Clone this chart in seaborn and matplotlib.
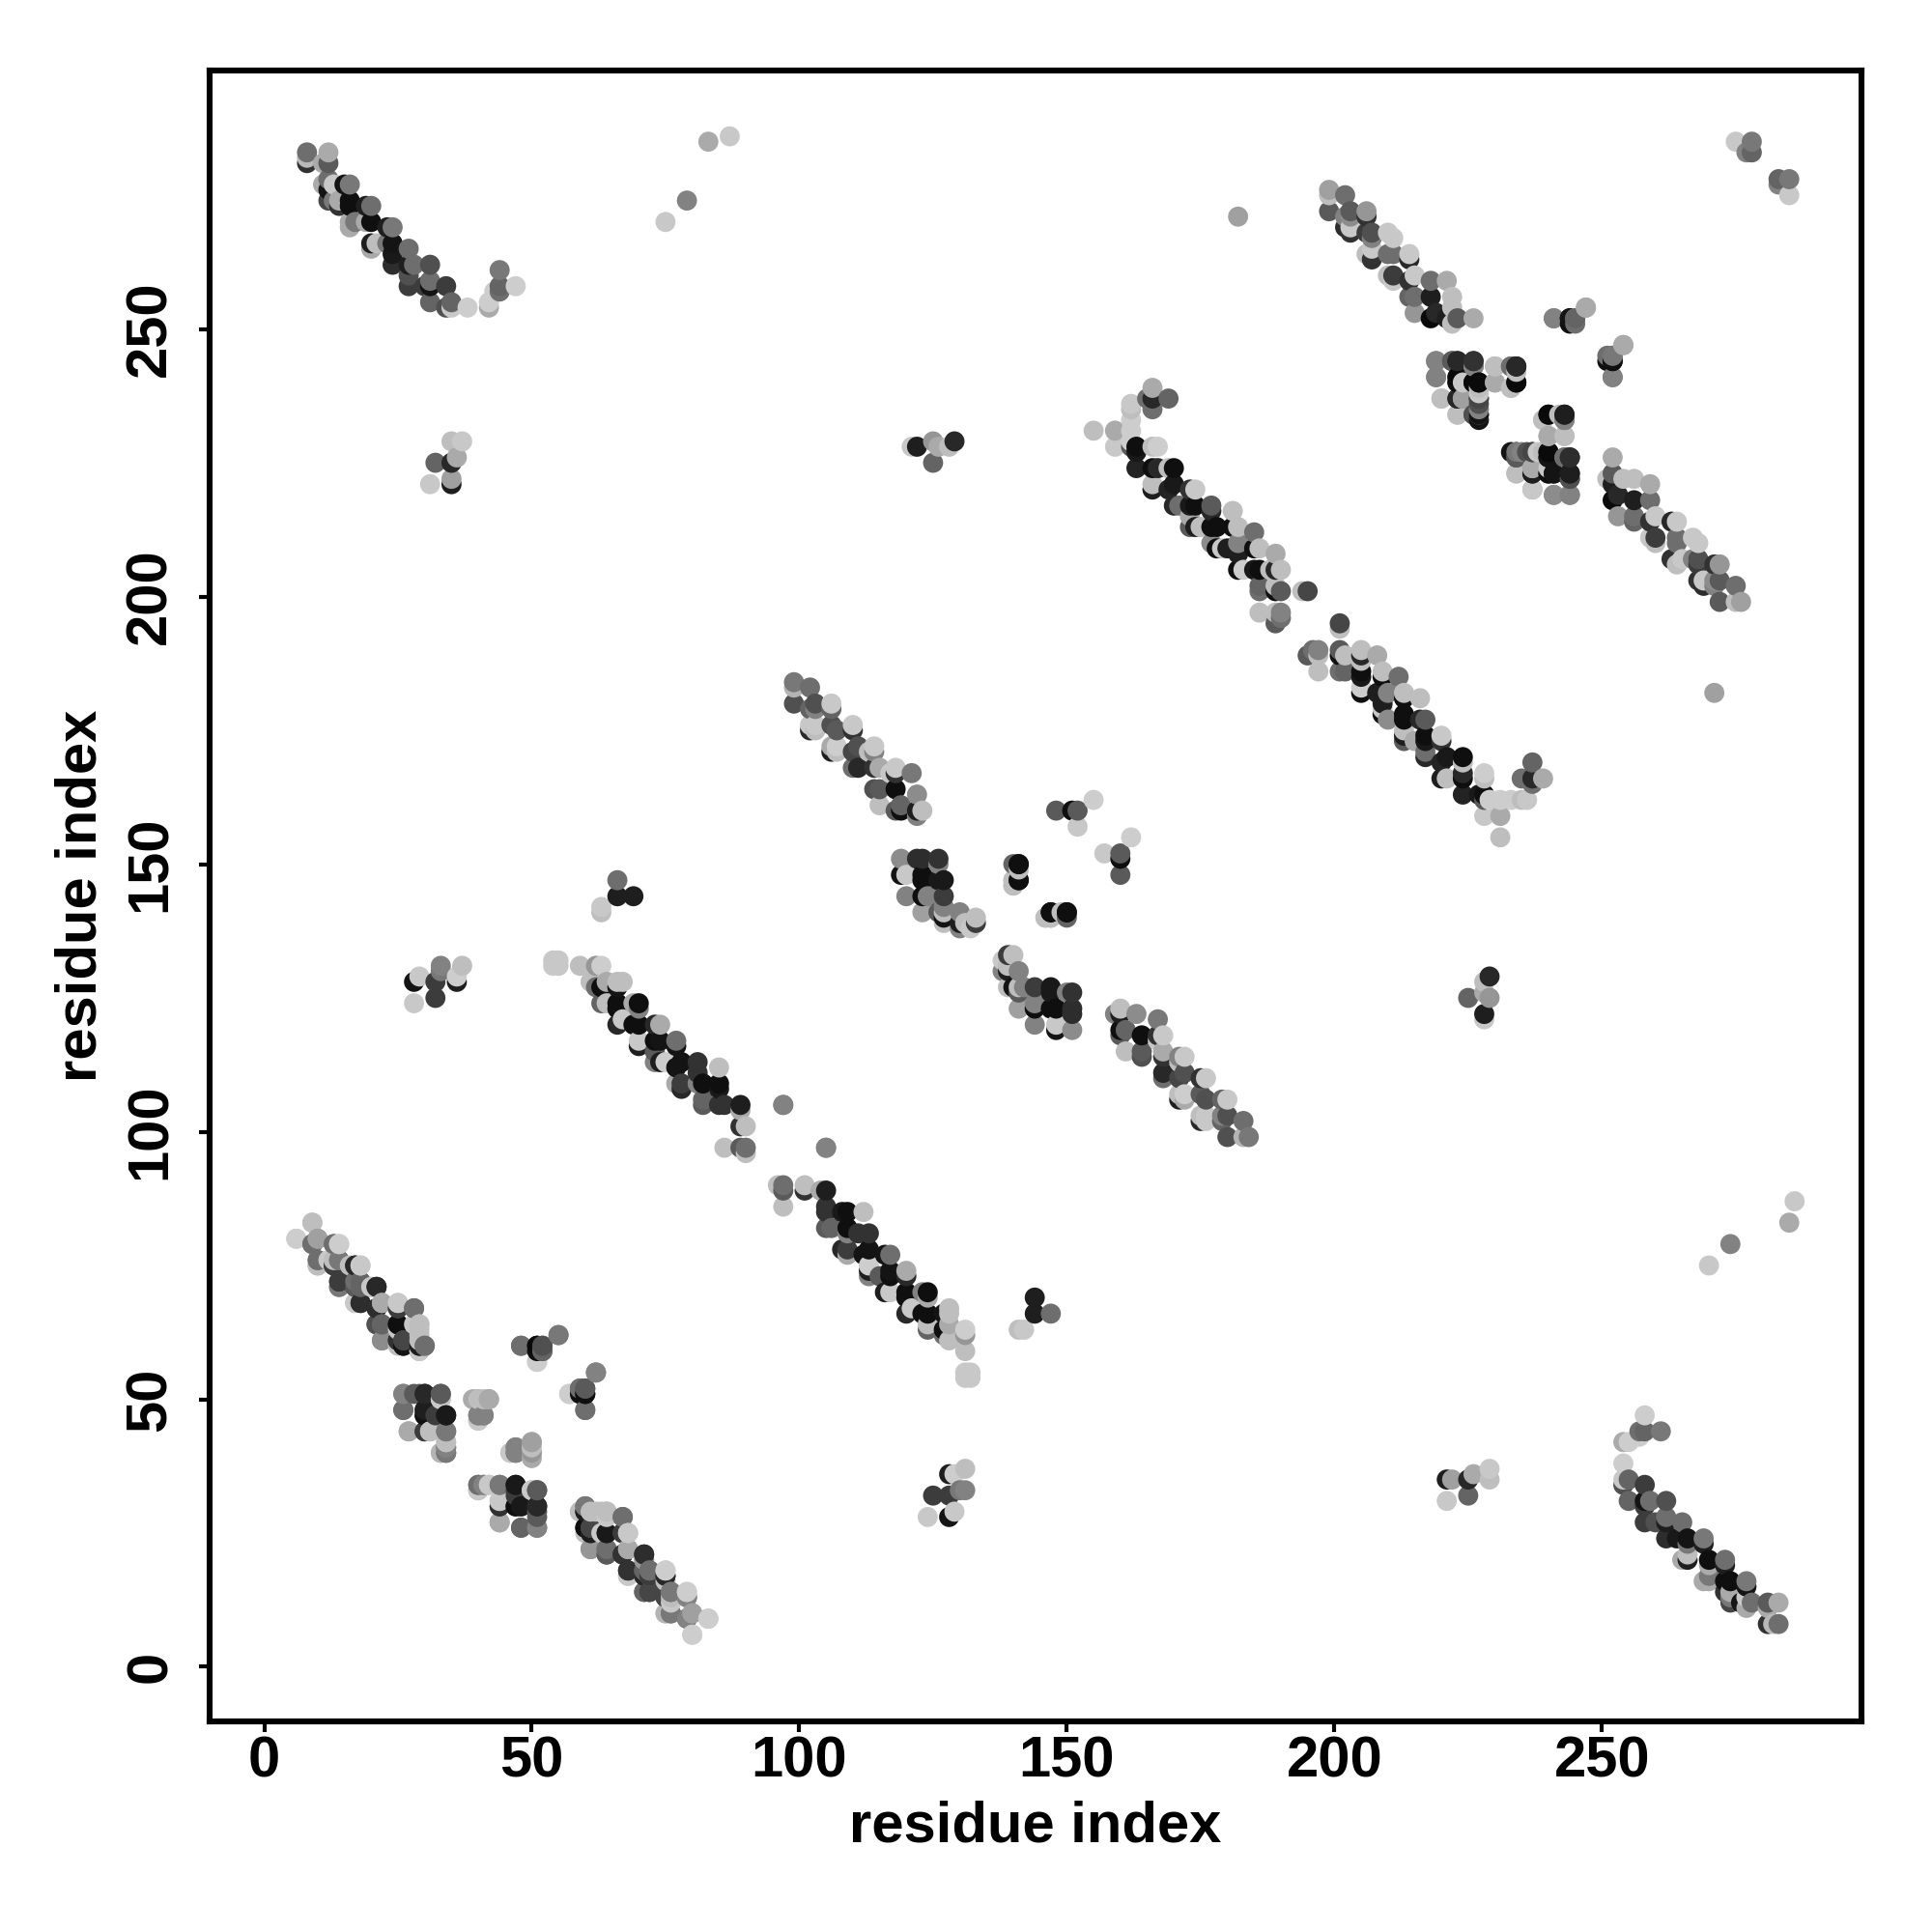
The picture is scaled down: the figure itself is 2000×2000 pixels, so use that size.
import pandas as pd
import matplotlib
matplotlib.use("Agg")
import matplotlib.pyplot as plt
import seaborn as sns

# contacts as (residue i, residue j, grey level), only i < j, the map is symmetric
helix_a_top = [
    (8,281,50),(8,282,185),(8,283,110),(12,283,170),(11,281,170),(12,281,90),(12,278,110),(11,277,170),
    (13,277,200),(12,276,20),(15,277,20),(16,277,120),(12,274,70),(13,274,120),(14,274,170),(14,273,50),
    (16,274,15),(16,273,15),(19,273,30),(20,273,110),(16,269,170),(16,270,170),(17,270,120),(19,270,170),
    (20,270,15),(23,269,30),(24,269,120),(20,265,170),(20,266,30),(21,266,190),(23,266,120),(24,266,20),
    (24,264,25),(27,265,110),(24,262,45),(27,262,30),(27,260,80),(28,262,110),(31,262,80),(27,258,60),
    (30,258,60),(31,258,20),(31,259,110),(34,258,60),(31,255,100),(34,254,80),(35,254,200),(35,255,100),
    (38,254,205),(42,254,170),(42,255,205),(43,257,205),(44,257,110),(44,258,100),(47,258,205),(44,261,120),
]
helix_a_low = [
    (9,83,205),(6,80,205),(9,79,130),(10,80,160),(10,76,120),(10,75,180),(13,79,130),(14,79,205),(12,76,200),
    (13,75,70),(14,76,120),(14,72,70),(14,71,100),(16,75,190),(17,75,40),(18,75,205),(17,72,60),(17,71,40),
    (18,72,110),(18,71,100),(20,71,150),(21,71,45),(17,68,200),(18,68,50),(21,67,50),(22,68,170),(21,64,90),
    (22,64,110),(22,61,150),(25,67,60),(25,68,200),(28,67,110),(25,64,25),(28,64,200),(29,64,190),(29,62,190),
    (25,61,30),(26,60,15),(26,61,70),(29,59,190),(29,60,30),(30,60,120),
]
sheet_block = [
    (26,51,130),(29,51,90),(30,51,40),(33,51,90),(33,50,200),(26,48,100),(30,48,25),(30,47,15),(33,47,60),
    (34,47,25),(27,44,170),(30,44,50),(31,44,200),(34,44,120),(34,42,200),(34,41,130),(34,40,110),(33,40,200),
    (40,50,150),(41,50,190),(42,50,160),(40,47,130),(41,47,130),(40,46,200),(47,41,130),(47,40,130),(46,40,200),
    (50,42,170),(50,40,190),(50,39,170),(40,34,120),(40,33,180),(41,34,130),(42,34,190),(44,34,120),(47,34,25),
    (47,32,60),(50,33,200),(51,33,90),(44,31,190),(44,30,60),(47,30,15),(48,30,30),(51,30,40),(51,28,90),
    (44,27,170),(48,26,110),(51,26,130),(48,60,110),(51,60,15),(52,59,110),(52,60,90),(51,57,205),(55,62,130),
    (62,55,120),(57,51,205),(59,52,100),(60,52,80),(60,51,10),(59,51,15),(60,48,110),
]
strand_60_80 = [
    (60,30,110),(59,29,200),(60,29,30),(61,29,190),(63,29,190),(64,29,190),(67,28,110),(60,26,20),(61,26,70),
    (60,25,190),(61,25,50),(64,25,15),(63,25,200),(67,25,60),(68,25,200),(61,22,140),(64,22,100),(64,21,80),
    (67,21,45),(68,22,170),(71,21,40),(71,20,200),(68,18,45),(68,17,200),(71,18,100),(71,17,90),(72,18,100),
    (72,17,110),(75,17,40),(75,18,200),(71,14,120),(72,14,60),(75,13,60),(76,14,120),(76,13,190),(79,13,110),
    (79,14,205),(75,10,190),(76,10,110),(79,9,110),(80,10,160),(83,9,190),(80,6,205),
]
long_helix_60_90 = [
    (54,131,200),(55,131,200),(54,132,200),(55,132,200),(59,131,190),(62,131,150),(63,131,205),(61,128,190),
    (62,127,110),(63,127,15),(64,128,170),(66,128,190),(67,128,190),(66,127,20),(63,124,100),(64,124,190),
    (66,124,15),(66,123,15),(69,124,170),(70,124,15),(70,123,130),(66,120,40),(67,121,200),(69,120,15),
    (70,120,15),(73,120,40),(74,120,170),(70,117,200),(70,116,30),(73,117,15),(74,117,20),(73,115,90),
    (77,117,110),(77,116,20),(73,113,130),(74,113,30),(75,113,205),(77,112,20),(78,113,20),(77,109,170),
    (78,109,60),(78,108,40),(81,113,50),(81,111,50),(82,109,15),(81,109,130),(85,112,190),(85,109,15),
    (85,108,25),(82,105,90),(82,106,100),(85,105,50),(86,105,50),(89,105,30),(89,104,170),(89,101,50),
    (90,101,190),(86,97,190),(89,97,90),(90,97,110),(90,96,190),(97,105,130),(105,97,130),
]
helix_99_123 = [
    (99,184,120),(99,183,180),(102,183,110),(99,180,80),(102,179,100),(103,180,80),(103,179,130),(106,180,200),
    (106,179,100),(102,176,200),(103,175,190),(103,176,200),(102,175,40),(106,176,80),(107,175,90),(110,176,200),
    (110,175,50),(106,172,170),(107,172,205),(106,171,30),(107,171,190),(110,171,70),(111,172,80),(113,171,190),
    (114,172,200),(114,171,130),(110,168,110),(111,168,40),(114,168,50),(115,168,170),(114,164,80),(115,164,90),
    (117,167,200),(118,168,200),(118,167,50),(121,167,120),(118,164,15),(115,161,190),(118,160,90),(119,161,100),
    (119,160,15),(122,163,140),(122,160,30),(122,159,130),(123,160,190),
]
block_119_133 = [
    (119,151,140),(122,151,45),(123,151,45),(126,151,50),(126,150,130),(119,148,20),(120,148,200),(123,148,15),
    (123,147,15),(126,147,25),(127,147,25),(120,144,130),(123,144,15),(124,144,130),(127,144,60),(127,142,130),
    (123,141,160),(126,141,90),(127,141,190),(127,140,20),(127,139,190),(130,141,130),(130,138,130),(130,139,30),
    (131,139,190),(132,138,200),(133,140,190),(133,139,60),(140,150,100),(141,150,15),(141,147,15),(140,147,190),
    (140,146,190),(147,141,15),(146,140,190),(147,140,190),(150,141,15),(149,141,190),(148,160,90),(151,160,15),
    (152,160,90),(152,157,200),(155,162,205),
]
helix_155_195 = [
    (166,239,170),(165,237,110),(166,237,40),(166,235,110),(169,237,100),(162,236,200),(162,235,190),(162,233,205),
    (162,231,205),(155,231,190),(159,231,170),(159,228,200),(162,229,205),(162,228,90),(163,228,15),(163,227,25),
    (166,228,190),(167,228,205),(163,224,35),(166,224,15),(167,224,40),(169,224,190),(170,224,15),(166,221,190),
    (166,220,30),(169,220,35),(170,221,25),(173,220,50),(174,220,200),(170,217,40),(171,217,110),(173,217,25),
    (174,217,15),(173,215,170),(177,217,90),(177,216,40),(173,213,90),(174,213,30),(175,213,190),(177,213,15),
    (178,213,15),(181,216,190),(181,213,15),(182,213,190),(177,210,140),(178,209,15),(179,209,200),(180,209,30),
    (182,210,130),(182,208,30),(185,212,110),(185,209,15),(186,209,190),(189,208,170),(182,205,15),(183,205,205),
    (185,205,25),(186,205,15),(188,205,190),(189,205,40),(190,205,190),(186,202,100),(186,201,110),(189,201,15),
    (190,201,90),(189,202,190),(194,201,190),(195,201,70),(186,197,190),(189,197,190),(190,197,130),(190,196,110),
    (189,195,90),
]
helix_199_226 = [
    (199,276,160),(199,275,190),(202,275,110),(199,272,90),(202,271,130),(203,272,90),(203,271,140),(206,272,150),
    (206,271,50),(202,269,45),(203,269,200),(203,268,50),(206,268,60),(207,268,80),(207,267,130),(206,264,190),
    (207,265,200),(207,263,50),(210,268,200),(211,267,200),(210,264,110),(211,264,110),(214,264,200),(214,263,40),
    (210,260,190),(211,259,200),(211,260,60),(214,259,50),(215,260,200),(218,259,110),(221,259,170),(214,256,100),
    (215,256,110),(218,256,30),(215,253,150),(218,252,10),(219,253,40),(222,256,190),(222,254,190),(222,251,190),
    (221,252,30),(223,252,90),(226,252,170),
]
block_219_254 = [
    (219,244,130),(219,241,140),(222,244,80),(223,244,30),(226,244,45),(226,243,110),(223,241,20),(224,240,200),
    (223,240,15),(226,240,20),(227,240,10),(227,238,200),(220,237,200),(223,237,30),(224,237,170),(227,237,70),
    (227,234,120),(223,234,190),(226,234,90),(227,233,20),(230,243,190),(230,240,170),(233,243,130),(234,243,30),
    (233,239,190),(234,240,10),(240,234,10),(239,233,190),(242,234,190),(243,234,40),(243,233,110),(240,230,170),
    (243,230,190),(234,227,20),(234,226,80),(235,227,130),(236,227,80),(237,227,70),(239,227,190),(240,227,10),
    (240,226,10),(243,226,130),(244,226,50),(234,223,190),(237,224,160),(237,223,40),(240,223,15),(241,223,10),
    (244,223,40),(244,222,90),(237,220,190),(241,219,130),(244,219,130),(241,252,130),(244,252,15),(245,252,120),
    (247,254,170),(251,245,110),(251,244,15),(252,244,20),(252,245,100),(254,247,170),(252,241,130),
]
isolated = [
    (275,285,200),(278,285,120),(278,283,100),(277,283,130),(75,270,200),(79,274,130),(83,285,170),(87,286,200),
    (182,271,160),(31,221,200),(32,225,100),(35,221,30),(35,222,160),(35,225,40),(36,226,170),(35,229,190),
    (37,229,200),(121,228,200),(122,228,30),(125,225,100),(125,229,150),(126,228,170),(129,229,40),(128,228,190),
    (28,124,200),(28,128,20),(29,129,200),(32,125,60),(32,128,60),(33,131,130),(36,128,30),(36,129,205),(37,131,190),
    (33,130,120),(63,141,190),(63,142,200),(66,144,30),(66,147,110),(69,144,30),
]
tick_values = [0, 50, 100, 150, 200, 250]

blocks = [helix_a_top, helix_a_low, sheet_block, strand_60_80, long_helix_60_90, helix_99_123,
          block_119_133, helix_155_195, helix_199_226, block_219_254, isolated]
rows = [c for b in blocks for c in b]
df = pd.DataFrame(rows, columns=["i", "j", "shade"])
mirror = df.rename(columns={"i": "j", "j": "i"})
df = pd.concat([df, mirror], ignore_index=True).sort_values(["i", "j"])
df["colour"] = [(s / 255, s / 255, s / 255) for s in df["shade"]]

sns.set_theme(style="white")
plt.rcParams["font.family"] = ["Liberation Sans", "DejaVu Sans"]
plt.rcParams["font.weight"] = "bold"

fig = plt.figure(figsize=(10, 10), dpi=200)
ax = fig.add_axes([217 / 2000, 1 - 1782 / 2000, 1710 / 2000, 1709 / 2000])
sns.scatterplot(data=df, x="i", y="j", c=df["colour"].tolist(), s=56, linewidth=0, legend=False, ax=ax)

ax.set_xlim(-10.2, 298.5)
ax.set_ylim(-10.2, 298.3)
ax.set_xticks(tick_values)
ax.set_yticks(tick_values)
ax.tick_params(axis="both", bottom=True, left=True, length=4, width=1.5, color="black", labelsize=21.5, labelcolor="black")
ax.tick_params(axis="x", pad=1.2)
ax.tick_params(axis="y", pad=8)
for lab in ax.get_yticklabels():
    lab.set_rotation(90)
    lab.set_va("center")
for side in ax.spines.values():
    side.set_visible(True)
    side.set_color("black")
    side.set_linewidth(2.2)
ax.set_xlabel("residue index", fontsize=21.5, fontweight="bold", labelpad=4.5, color="black")
ax.set_ylabel("residue index", fontsize=21.5, fontweight="bold", labelpad=6, color="black")

fig.savefig("out.png", dpi=200)
